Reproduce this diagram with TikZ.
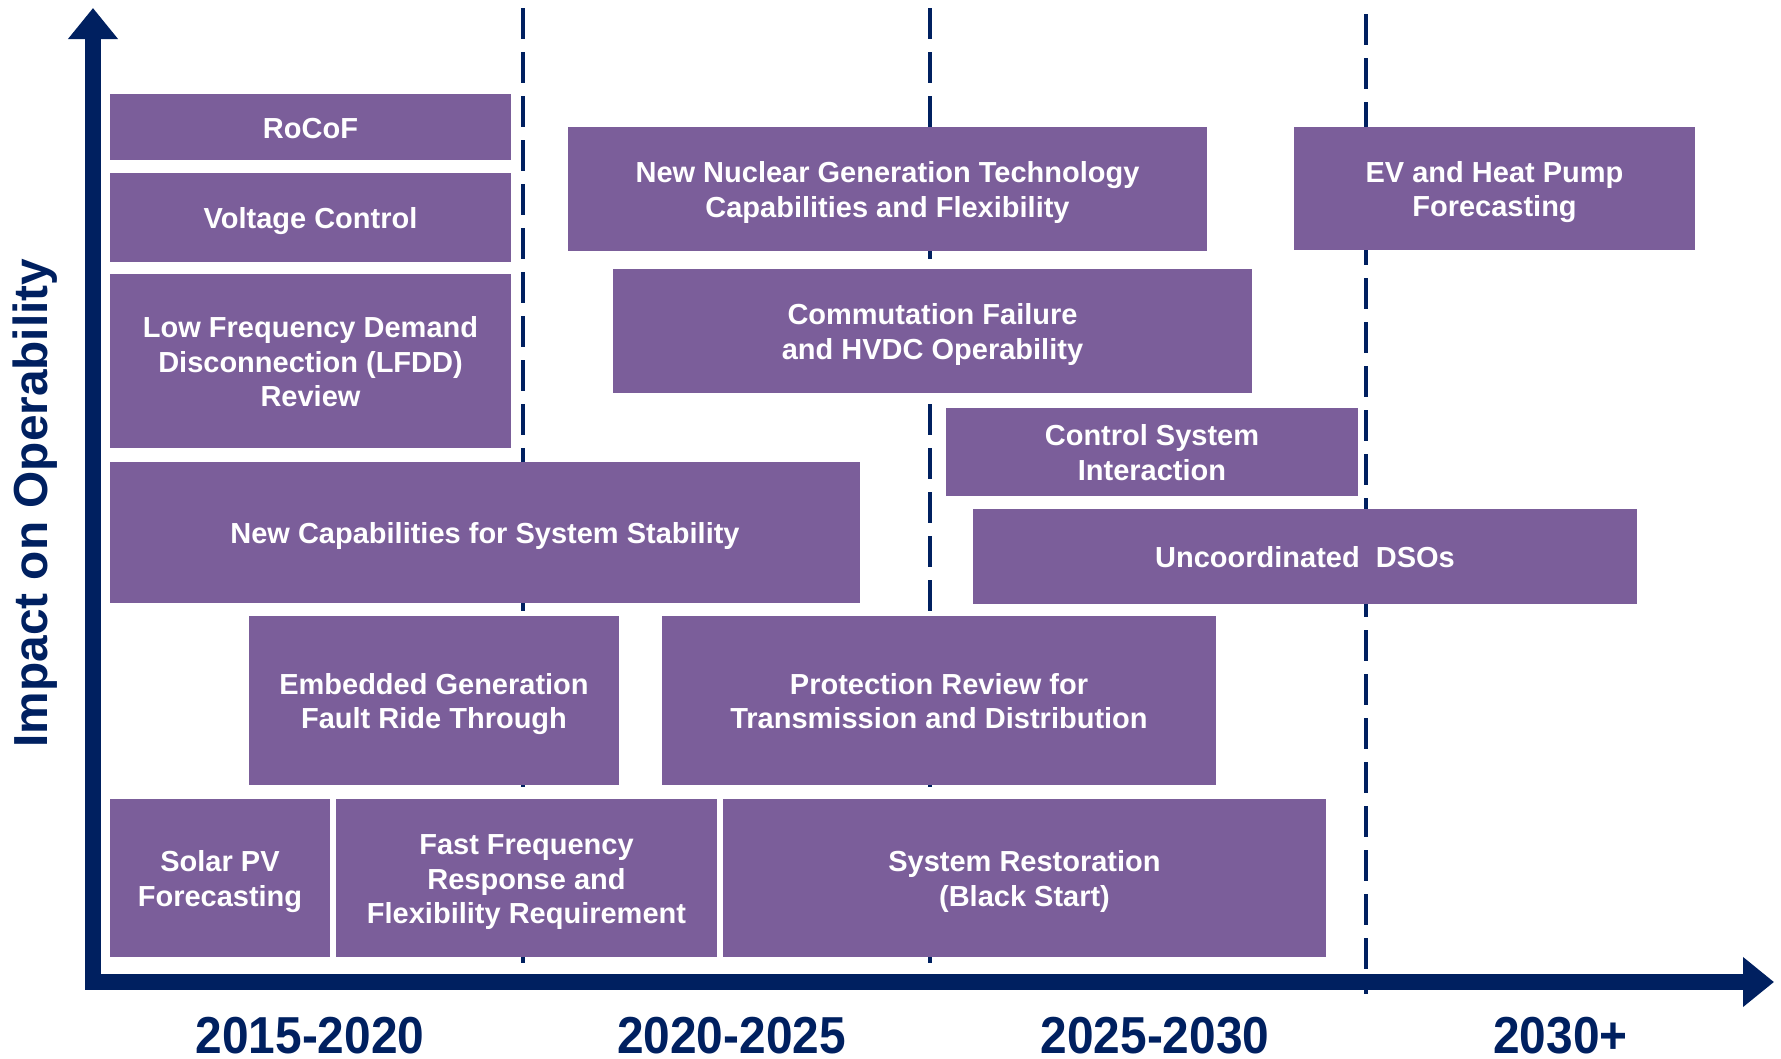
\documentclass[tikz,border=0pt]{standalone}
\usepackage{fontspec}
\setmainfont{Liberation Sans}
\newfontfamily\yearfont[FakeStretch=0.92]{Liberation Sans}
\usepackage{tikz}
\usetikzlibrary{arrows.meta}
\definecolor{ngnavy}{RGB}{0,32,96}
\definecolor{ngpurple}{RGB}{123,94,154}

% fixed first/last line extents so every box centres its text alike
\newcommand{\topline}{\rule{0pt}{28.8pt}}
\newcommand{\botline}{\rule[-6.5pt]{0pt}{6.5pt}}

% box from (x1,y1) to (x2,y2) in pixel units
\newcommand{\issue}[6]{%
\node[topic,minimum width={#4-#2},minimum height={#5-#3}] (#1) at ({(#2+#4)/2},{(#3+#5)/2}) {\topline#6\botline};}

\begin{document}
\begin{tikzpicture}[x=1pt,y=-1pt,
topic/.style={fill=ngpurple,text=white,inner sep=0pt,outer sep=0pt,align=center,font=\bfseries\fontsize{29}{34.5}\selectfont},
divider/.style={draw=ngnavy,line width=3.5pt,dash pattern=on 31pt off 13pt},
axis/.style={draw=ngnavy,line width=16pt,>={Triangle[length=31pt,width=48pt]},<->},
period/.style={text=ngnavy,anchor=base,inner sep=0pt,font=\yearfont\bfseries\fontsize{52}{52}\selectfont}]

\useasboundingbox (0,0) rectangle (1781,1058);

\foreach \x/\s/\e in {523/8/965,930/8/965,1366/14/994}
{
\draw[divider] (\x,\s) -- (\x,\e);
}

\coordinate (ytop) at (93,8);
\coordinate (origin) at (93,982);
\coordinate (xend) at (1774,982);
\draw[axis] (ytop) -- (origin) -- (xend);

\node[rotate=90,text=ngnavy,font=\bfseries\fontsize{47.8}{47.8}\selectfont] (impact) at (35.5,503) {Impact on Operability};

\node[period] (p1) at (310,1053) {2015-2020};
\node[period] (p2) at (731.5,1053) {2020-2025};
\node[period] (p3) at (1155,1053) {2025-2030};
\node[period] (p4) at (1560.5,1053) {2030+};

\issue{rocof}{110}{94}{511}{160}{RoCoF}
\issue{voltage}{110}{173}{511}{262}{Voltage Control}
\issue{lfdd}{110}{274}{511}{448}{Low Frequency Demand\\Disconnection (LFDD)\\Review}
\issue{stability}{110}{462}{860}{603}{New Capabilities for System Stability}
\issue{frt}{249}{616}{619}{785}{Embedded Generation\\Fault Ride Through}
\issue{solar}{110}{799}{330}{957}{Solar PV\\Forecasting}
\issue{ffr}{336}{799}{717}{957}{Fast Frequency\\Response and\\Flexibility Requirement}
\issue{nuclear}{568}{127}{1207}{251}{New Nuclear Generation Technology\\Capabilities and Flexibility}
\issue{hvdc}{613}{269}{1252}{393}{Commutation Failure\\and HVDC Operability}
\issue{protection}{662}{616}{1216}{785}{Protection Review for\\Transmission and Distribution}
\issue{restoration}{723}{799}{1326}{957}{System Restoration\\(Black Start)}
\issue{control}{946}{408}{1358}{496}{Control System\\Interaction}
\issue{dso}{973}{509}{1637}{604}{Uncoordinated\ \ DSOs}
\issue{ev}{1294}{127}{1695}{250}{EV and Heat Pump\\Forecasting}
\end{tikzpicture}
\end{document}
